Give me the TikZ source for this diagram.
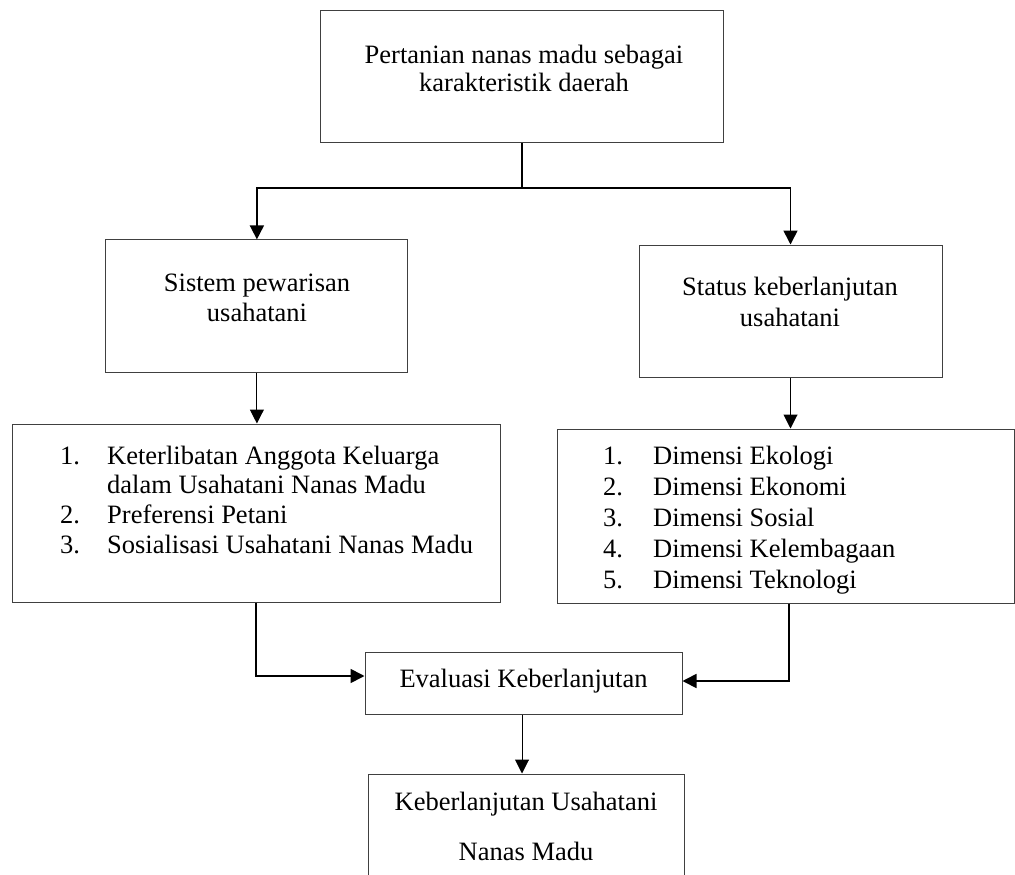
\documentclass[tikz,border=0pt]{standalone}
\usepackage{fontspec}
\setmainfont{Liberation Serif}
\usetikzlibrary{arrows.meta,calc}
\begin{document}
\begin{tikzpicture}[x=1pt,y=-1pt,
  box/.style={draw=black!75,line width=1pt,inner sep=0pt},
  txt/.style={font=\fontsize{26.5}{30}\selectfont,inner sep=0pt,anchor=base},
  ltxt/.style={txt,anchor=base west},
  thick conn/.style={line width=1.7pt,black},
  arr/.style={thick conn,-{Triangle[width=14pt,length=14pt]}},
  thinarr/.style={line width=1pt,black,-{Triangle[width=14pt,length=14pt]}}]
\clip (0,0) rectangle (1015,875);
\useasboundingbox (0,0) rectangle (1015,875);
% boxes
\node[box,minimum width=403pt,minimum height=132pt] (top) at (522.3,76.9) {};
\node[box,minimum width=302pt,minimum height=133pt] (sb) at (256.9,306.4) {};
\node[box,minimum width=303pt,minimum height=132pt] (sk) at (790.5,311) {};
\node[box,minimum width=488pt,minimum height=178pt] (ll) at (256,513) {};
\node[box,minimum width=457pt,minimum height=174pt] (rl) at (785.5,516) {};
\node[box,minimum width=317pt,minimum height=62pt] (ev) at (523.5,683) {};
\node[box,minimum width=316pt,minimum height=140pt] (kb) at (526,844) {};
% texts
\node[txt] (t1) at (524,64) {Pertanian nanas madu sebagai};
\node[txt] (t2) at (524,92) {karakteristik daerah};
\node[txt] (s1) at (257,291.7) {Sistem pewarisan};
\node[txt] (s2) at (257,321.7) {usahatani};
\node[txt] (k1) at (790,295) {Status keberlanjutan};
\node[txt] (k2) at (790,326.7) {usahatani};
\node[ltxt] (ln1) at (60,464) {1.};
\node[ltxt] (lt1) at (107,464) {Keterlibatan Anggota Keluarga};
\node[ltxt] (lt1b) at (107,493) {dalam Usahatani Nanas Madu};
\node[ltxt] (ln2) at (60,523) {2.};
\node[ltxt] (lt2) at (107,523) {Preferensi Petani};
\node[ltxt] (ln3) at (60,553) {3.};
\node[ltxt] (lt3) at (107,553) {Sosialisasi Usahatani Nanas Madu};
\node[ltxt] (rn1) at (603,464) {1.};
\node[ltxt] (rt1) at (653,464) {Dimensi Ekologi};
\node[ltxt] (rn2) at (603,495) {2.};
\node[ltxt] (rt2) at (653,495) {Dimensi Ekonomi};
\node[ltxt] (rn3) at (603,526) {3.};
\node[ltxt] (rt3) at (653,526) {Dimensi Sosial};
\node[ltxt] (rn4) at (603,557) {4.};
\node[ltxt] (rt4) at (653,557) {Dimensi Kelembagaan};
\node[ltxt] (rn5) at (603,588) {5.};
\node[ltxt] (rt5) at (653,588) {Dimensi Teknologi};
\node[txt] (evt) at (523.5,687) {Evaluasi Keberlanjutan};
\node[txt] (kb1) at (526,810) {Keberlanjutan Usahatani};
\node[txt] (kb2) at (526,860) {Nanas Madu};
% connectors
\coordinate (split) at (522.3,188);
\draw[thick conn] (top.south) -- (split);
\draw[arr] (split) -| (sb.north);
\draw[arr] (split) -| (sk.north);
\draw[thinarr] (sb.south) -- (sb.south |- ll.north);
\draw[thinarr] (sk.south) -- (sk.south |- rl.north);
\coordinate (lbend) at (256,676);
\coordinate (rbend) at (789,681);
\draw[arr] (ll.south) -- (lbend) -- (lbend -| ev.west);
\draw[arr] (rl.south -| rbend) -- (rbend) -- (rbend -| ev.east);
\draw[thinarr] (ev.south -| 522,0) -- (522,0 |- kb.north);
\end{tikzpicture}
\end{document}
